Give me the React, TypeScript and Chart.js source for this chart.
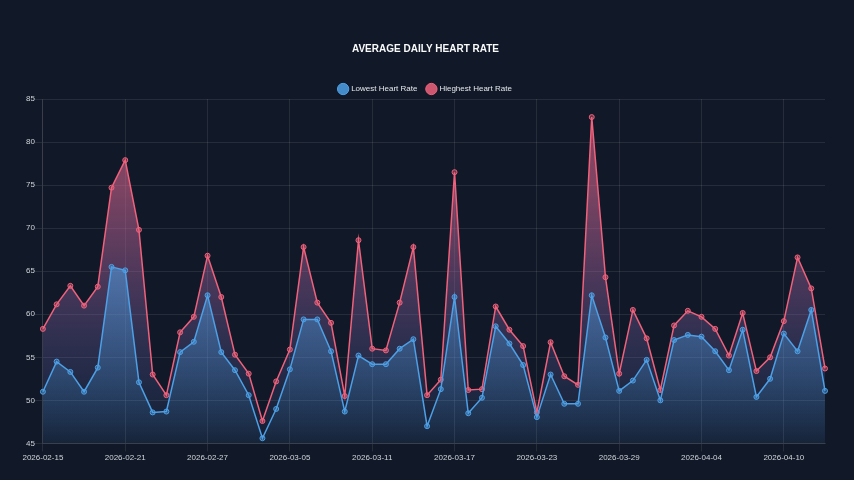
import React, { useEffect, useRef } from "react";
import { Chart, registerables } from "chart.js";

Chart.register(...registerables);

const dates: string[] = [
  "2026-02-15", "2026-02-16", "2026-02-17", "2026-02-18", "2026-02-19", "2026-02-20", "2026-02-21",
  "2026-02-22", "2026-02-23", "2026-02-24", "2026-02-25", "2026-02-26", "2026-02-27", "2026-02-28",
  "2026-03-01", "2026-03-02", "2026-03-03", "2026-03-04", "2026-03-05", "2026-03-06", "2026-03-07",
  "2026-03-08", "2026-03-09", "2026-03-10", "2026-03-11", "2026-03-12", "2026-03-13", "2026-03-14",
  "2026-03-15", "2026-03-16", "2026-03-17", "2026-03-18", "2026-03-19", "2026-03-20", "2026-03-21",
  "2026-03-22", "2026-03-23", "2026-03-24", "2026-03-25", "2026-03-26", "2026-03-27", "2026-03-28",
  "2026-03-29", "2026-03-30", "2026-03-31", "2026-04-01", "2026-04-02", "2026-04-03", "2026-04-04",
  "2026-04-05", "2026-04-06", "2026-04-07", "2026-04-08", "2026-04-09", "2026-04-10", "2026-04-11",
  "2026-04-12", "2026-04-13",
];

const tickLabels: string[] = [
  "2026-02-15", "2026-02-21", "2026-02-27", "2026-03-05", "2026-03-11",
  "2026-03-17", "2026-03-23", "2026-03-29", "2026-04-04", "2026-04-10",
];

const lowestHeartRate: number[] = [
  51.0, 54.5, 53.3, 51.0, 53.8, 65.5, 65.1, 52.1, 48.6, 48.7, 55.6, 56.8, 62.2, 55.6, 53.5, 50.6, 45.6, 49.0, 53.6,
  59.4, 59.4, 55.7, 48.7, 55.2, 54.2, 54.2, 56.0, 57.1, 47.0, 51.3, 62.0, 48.5, 50.3, 58.6, 56.6, 54.1, 48.05, 53.0, 49.6, 49.6,
  62.2, 57.3, 51.1, 52.3, 54.7, 50.0, 57.0, 57.6, 57.4, 55.7, 53.5, 58.2, 50.4, 52.5, 57.75, 55.7, 60.5, 51.1,
];

const highestHeartRate: number[] = [
  58.3, 61.15, 63.3, 61.0, 63.2, 74.7, 77.9, 69.8, 53.0, 50.6, 57.9, 59.7, 66.8, 62.0, 55.3, 53.1, 47.6, 52.2, 55.9,
  67.8, 61.35, 59.0, 50.5, 68.6, 56.0, 55.8, 61.35, 67.8, 50.6, 52.4, 76.5, 51.2, 51.3, 60.9, 58.2, 56.3, 48.6, 56.75, 52.8, 51.8,
  82.9, 64.3, 53.1, 60.5, 57.2, 51.2, 58.7, 60.4, 59.7, 58.3, 55.2, 60.15, 53.4, 55.0, 59.2, 66.6, 63.0, 53.7,
];

const BG = "#111827";
const BLUE = [77, 160, 230];
const RED = [240, 98, 124];
const rgba = (c: number[], a: number) => `rgba(${c[0]},${c[1]},${c[2]},${a})`;

type Stop = [number, string];

const gradientFor = (stops: Stop[], fallback: string) => (ctx: any) => {
  const chart = ctx.chart;
  const area = chart.chartArea;
  if (!area) return fallback;
  const g = chart.ctx.createLinearGradient(0, area.top, 0, area.bottom);
  stops.forEach(([o, c]) => g.addColorStop(o, c));
  return g;
};

const blueStops: Stop[] = [
  [0, "rgba(77,160,230,0.72)"],
  [0.45, "rgba(77,160,230,0.6)"],
  [0.75, "rgba(77,160,230,0.3)"],
  [1, "rgba(77,160,230,0.05)"],
];

const redStops: Stop[] = [
  [0, "rgba(220,100,135,0.6)"],
  [0.26, "rgba(205,100,142,0.58)"],
  [0.47, "rgba(160,95,150,0.48)"],
  [0.75, "rgba(110,105,180,0.26)"],
  [1, "rgba(77,130,220,0.05)"],
];

export default function App() {
  const ref = useRef<HTMLCanvasElement | null>(null);

  useEffect(() => {
    document.body.style.margin = "0";
    document.body.style.background = BG;
    if (!ref.current) return;
    Chart.defaults.font.family = "'Liberation Sans', Arial, sans-serif";
    const chart = new Chart(ref.current, {
      type: "line",
      data: {
        labels: dates,
        datasets: [
          {
            label: "Lowest Heart Rate",
            data: lowestHeartRate,
            borderColor: rgba(BLUE, 1),
            backgroundColor: gradientFor(blueStops, rgba(BLUE, 0.5)),
            pointBackgroundColor: rgba(BLUE, 0.4),
            pointBorderColor: rgba(BLUE, 1),
            pointRadius: 2.5,
            pointBorderWidth: 1,
            borderWidth: 1.5,
            tension: 0,
            fill: "origin",
          },
          {
            label: "Hieghest Heart Rate",
            data: highestHeartRate,
            borderColor: rgba(RED, 1),
            backgroundColor: gradientFor(redStops, rgba(RED, 0.5)),
            pointBackgroundColor: rgba(RED, 0.4),
            pointBorderColor: rgba(RED, 1),
            pointRadius: 2.5,
            pointBorderWidth: 1,
            borderWidth: 1.5,
            tension: 0,
            fill: "origin",
          },
        ],
      },
      options: {
        animation: false,
        responsive: false,
        maintainAspectRatio: false,
        layout: { padding: { left: 26, right: 29, top: 33, bottom: 15 } },
        plugins: {
          title: {
            display: true,
            text: "AVERAGE DAILY HEART RATE",
            color: "#f9fafb",
            font: { size: 10, weight: "bold" },
            padding: { top: 10, bottom: 20 },
          },
          legend: {
            display: true,
            position: "top",
            labels: {
              usePointStyle: true,
              pointStyle: "circle",
              color: "#e5e7eb",
              font: { size: 8 },
              padding: 10,
              generateLabels: (ch: any) =>
                ch.data.datasets.map((ds: any, i: number) => {
                  const c = i === 0 ? BLUE : RED;
                  return {
                    text: ds.label,
                    fillStyle: rgba(c, 0.85),
                    strokeStyle: rgba(c, 1),
                    lineWidth: 1,
                    pointStyle: "circle",
                    datasetIndex: i,
                    hidden: !ch.isDatasetVisible(i),
                    fontColor: "#e5e7eb",
                  };
                }),
            },
          },
          tooltip: { enabled: false },
        },
        scales: {
          x: {
            grid: { color: "rgba(255,255,255,0.09)", tickLength: 8 },
            border: { color: "rgba(255,255,255,0.09)" },
            ticks: {
              autoSkip: false,
              maxRotation: 0,
              color: "#d1d5db",
              font: { size: 8 },
              padding: 2,
              callback: function (this: any, _v: any, i: number) {
                const l = dates[i];
                return tickLabels.includes(l) ? l : null;
              },
            },
          },
          y: {
            min: 45,
            max: 85,
            grid: { color: "rgba(255,255,255,0.09)", tickLength: 8 },
            border: { color: "rgba(255,255,255,0.09)" },
            ticks: { stepSize: 5, color: "#d1d5db", font: { size: 8 }, padding: 0 },
          },
        },
      },
    });
    const lg: any = (chart as any).legend;
    if (lg) {
      const orig = lg.fit.bind(lg);
      lg.fit = () => {
        orig();
        lg.height -= 4;
      };
      chart.update();
    }
    return () => chart.destroy();
  }, []);

  return (
    <div style={{ width: 854, height: 480, background: BG }}>
      <canvas ref={ref} width={854} height={480} style={{ display: "block", width: 854, height: 480 }} />
    </div>
  );
}
